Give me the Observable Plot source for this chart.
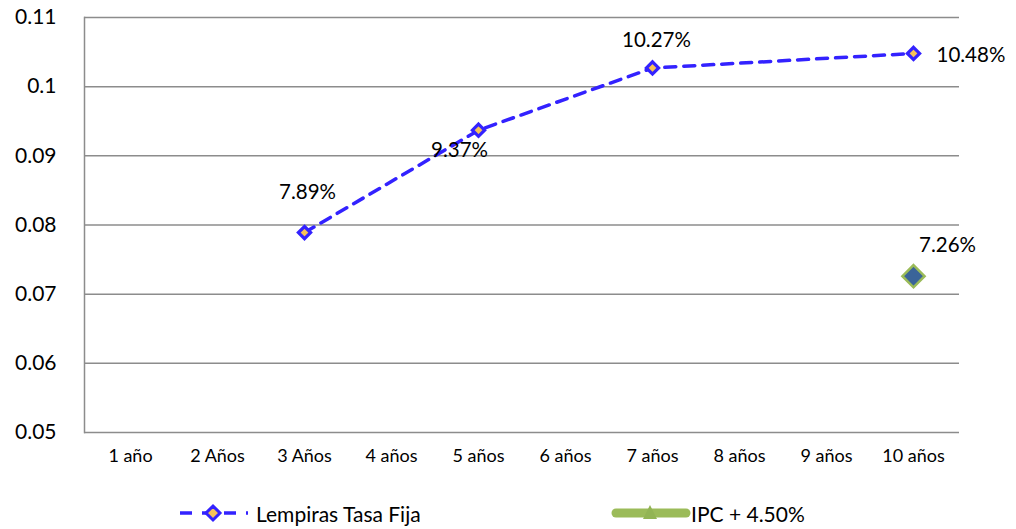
<!DOCTYPE html>
<html>
<head>
<meta charset="utf-8">
<script src="https://cdn.jsdelivr.net/npm/d3@7"></script>
<script src="https://cdn.jsdelivr.net/npm/@observablehq/plot@0.6"></script>
<style>
  body { margin: 0; background: #fff; font-family: Lato, sans-serif; }
  #chart { width: 1016px; }
  .legend { position: relative; height: 49px; font-size: 21px; color: #000; }
  .legend .item { position: absolute; top: 23px; display: flex; align-items: center; height: 20px; }
  .legend svg { display: block; }
  .yaxis text { font-size: 21px; }
  .xaxis text { font-size: 18px; }
  .labels text { font-size: 20.5px; }
</style>
</head>
<body>
<div id="chart"></div>
<script>
// Plazos (categorías del eje X)
const plazos = ["1 año", "2 Años", "3 Años", "4 años", "5 años", "6 años", "7 años", "8 años", "9 años", "10 años"];

// Serie: Lempiras Tasa Fija
const lempirasPlazos = ["3 Años", "5 años", "7 años", "10 años"];
const lempirasTasas = [0.0789, 0.0937, 0.1027, 0.1048];

// Serie: IPC + 4.50%
const ipcPlazos = ["10 años"];
const ipcTasas = [0.0726];

// Marcas del eje Y
const yTicks = [0.05, 0.06, 0.07, 0.08, 0.09, 0.1, 0.11];

const lempiras = lempirasPlazos.map((p, i) => ({plazo: p, tasa: lempirasTasas[i]}));
const ipc = ipcPlazos.map((p, i) => ({plazo: p, tasa: ipcTasas[i]}));

const pct = v => (v * 100).toFixed(2) + "%";

// Posición de cada etiqueta de dato respecto a su punto
const labelOffset = {
  "3 Años": {dx: 3, dy: -40, anchor: "middle"},
  "5 años": {dx: -19, dy: 20, anchor: "middle"},
  "7 años": {dx: 4, dy: -28, anchor: "middle"},
  "10 años": {dx: 23, dy: 2, anchor: "start"}
};

const BLUE = "#3322ff";
const GRID = "#8c8c8c";

const chart = Plot.plot({
  width: 1016,
  height: 480,
  marginTop: 17,
  marginLeft: 84,
  marginRight: 57,
  marginBottom: 48,
  style: {fontFamily: "Lato, sans-serif", background: "#fff", color: "#000"},
  x: {type: "point", domain: plazos, padding: 0.5, label: null},
  y: {domain: [0.05, 0.11], label: null},
  marks: [
    Plot.ruleY(yTicks, {stroke: GRID, strokeWidth: 1.5}),
    Plot.frame({anchor: "left", stroke: GRID, strokeWidth: 1.5}),
    Plot.axisY(yTicks, {
      className: "yaxis", tickSize: 0, tickPadding: 28,
      tickFormat: d => String(+d.toFixed(2))
    }),
    Plot.axisX({className: "xaxis", tickSize: 0, tickPadding: 17}),
    Plot.line(lempiras, {
      x: "plazo", y: "tasa", stroke: BLUE, strokeWidth: 3.5,
      strokeDasharray: "11,8"
    }),
    Plot.dot(lempiras, {
      x: "plazo", y: "tasa", symbol: "diamond2", r: 5.5,
      fill: "#f7c257", stroke: BLUE, strokeWidth: 3.2
    }),
    Plot.dot(ipc, {
      x: "plazo", y: "tasa", symbol: "diamond2", r: 10,
      fill: "#3a6499", stroke: "#9bbb59", strokeWidth: 2.5
    }),
    ...lempiras.map(d => Plot.text([d], {
      className: "labels",
      x: "plazo", y: "tasa", text: d => pct(d.tasa),
      dx: labelOffset[d.plazo].dx, dy: labelOffset[d.plazo].dy,
      textAnchor: labelOffset[d.plazo].anchor, fill: "#000"
    })),
    Plot.text(ipc, {
      className: "labels",
      x: "plazo", y: "tasa", text: d => pct(d.tasa),
      dx: 34, dy: -31, fill: "#000"
    })
  ]
});

document.getElementById("chart").appendChild(chart);

// Leyenda bajo el gráfico
const legend = document.createElement("div");
legend.className = "legend";
legend.innerHTML = `
  <div class="item" style="left:178px">
    <svg width="72" height="20">
      <line x1="2" y1="10" x2="70" y2="10" stroke="${BLUE}" stroke-width="3.5" stroke-dasharray="12,10" />
      <path d="M35,3 L42,10 L35,17 L28,10 Z" fill="#f7c257" stroke="${BLUE}" stroke-width="3" />
    </svg>
    <span style="margin-left:6px">Lempiras Tasa Fija</span>
  </div>
  <div class="item" style="left:611px">
    <svg width="80" height="20">
      <line x1="5" y1="10" x2="75" y2="10" stroke="#9bbb59" stroke-width="9" stroke-linecap="round" />
      <path d="M39,2 L46,16 L32,16 Z" fill="#92b454" />
    </svg>
    <span>IPC + 4.50%</span>
  </div>`;
document.getElementById("chart").appendChild(legend);
</script>
</body>
</html>
